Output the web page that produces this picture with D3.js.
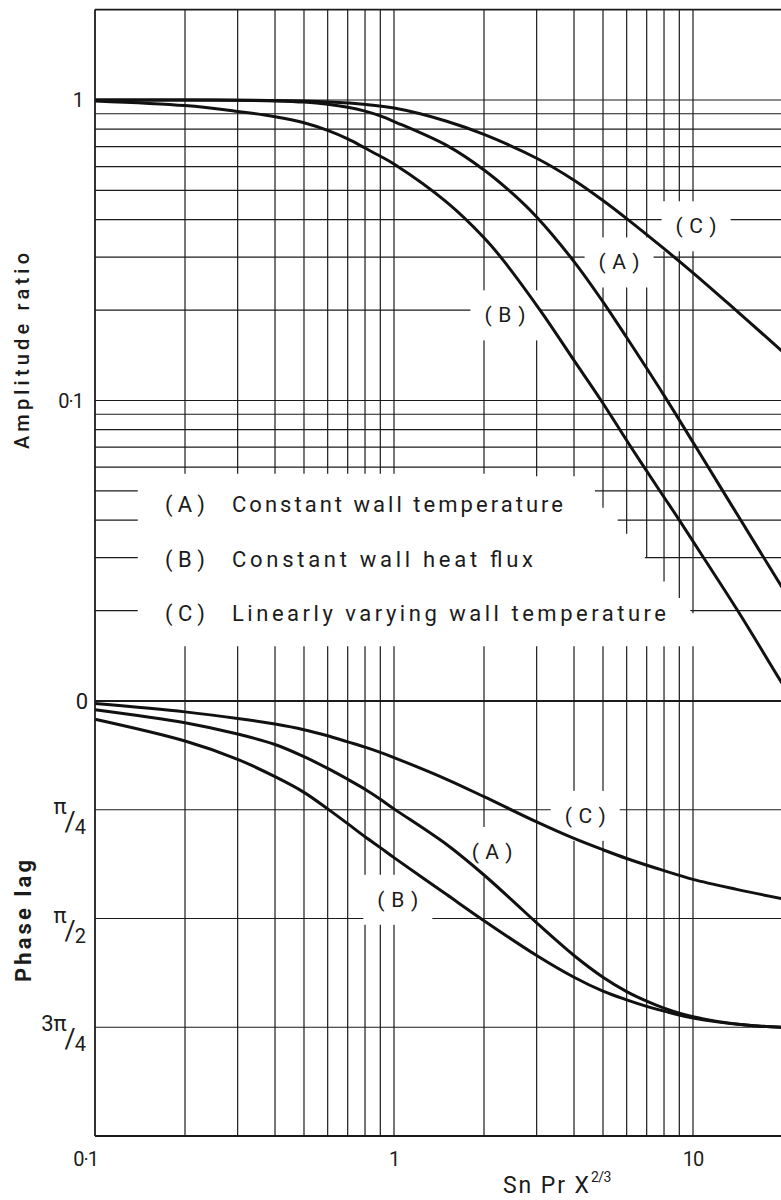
<!DOCTYPE html>
<html>
<head>
<meta charset="utf-8">
<script src="https://cdn.jsdelivr.net/npm/d3@7"></script>
<style>
  body { margin: 0; background: #fff; }
  svg { display: block; }
  text { font-family: Roboto, "DejaVu Sans", sans-serif; fill: #1b1b1b; }
</style>
</head>
<body>
<svg id="chart" width="781" height="1200"></svg>
<script>
// ---- values ---------------------------------------------------------------
// horizontal axis: Sn Pr X^(2/3), logarithmic
const xTickValues = [0.1, 1, 10];
const xTickText = ["0·1", "1", "10"];
const xGridValues = [0.2, 0.3, 0.4, 0.5, 0.6, 0.7, 0.8, 0.9, 1, 2, 3, 4, 5, 6, 7, 8, 9, 10];
// amplitude at which each vertical rule stops above the legend block
const xGridStop = [0.057, 0.057, 0.057, 0.057, 0.057, 0.057, 0.057, 0.057, 0.057,
                   0.057, 0.056, 0.056, 0.044, 0.036, 0.030, 0.025, 0.022, 0.0196];
const xGridResume = 0.0152;

// amplitude ratio axis, logarithmic
const ampTickValues = [1, 0.1];
const ampTickText = ["1", "0·1"];
const ampTop = 2;
const ampGridValues = [1, 0.9, 0.8, 0.7, 0.6, 0.5, 0.4, 0.3, 0.2, 0.1, 0.09, 0.08, 0.07, 0.06];
// rules that step round the legend: short stub on the left, remainder from ampStairStart
const ampStairValues = [0.05, 0.04, 0.03, 0.02];
const ampStairStart = [4.7, 5.6, 6.9, 9.8];
const ampStubEnd = 0.139;

// phase lag axis, in multiples of pi
const phaseTickValues = [0, 0.25, 0.5, 0.75];
const phaseTickNum = ["0", "π", "π", "3π"];
const phaseTickDen = ["", "4", "2", "4"];

// curves: [Sn Pr X^(2/3), amplitude ratio]
const ampA = [[0.1,1.0],[0.2,1.0],[0.3,0.998],[0.4,0.993],[0.5,0.984],[0.6,0.968],[0.7,0.946],
  [0.8,0.918],[0.9,0.885],[1,0.848],[1.5,0.706],[2,0.585],[2.5,0.487],[3,0.408],[4,0.29],
  [5,0.213],[6,0.162],[8,0.104],[10,0.0726],[12.4,0.0512],[14.2,0.0411],[20,0.0236]];
const ampB = [[0.1,0.993],[0.2,0.958],[0.3,0.916],[0.4,0.88],[0.5,0.84],[0.6,0.792],[0.7,0.742],
  [0.8,0.692],[0.9,0.65],[1,0.612],[1.5,0.457],[2,0.348],[2.3,0.296],[3.1,0.198],[4,0.136],
  [4.93,0.1],[6.2,0.07],[7.8,0.0495],[9,0.04],[10.8,0.0302],[14.1,0.02],[20,0.0113]];
const ampC = [[0.1,1.0],[0.2,1.0],[0.3,0.999],[0.5,0.993],[0.7,0.978],[1,0.94],[1.5,0.85],
  [2,0.768],[3,0.64],[4,0.541],[5,0.463],[6,0.403],[8,0.32],[10,0.266],[13,0.212],[20,0.145]];

// curves: [Sn Pr X^(2/3), phase lag / pi]
const phaseA = [[0.1,0.02],[0.2,0.05],[0.3,0.076],[0.4,0.10],[0.5,0.128],[0.6,0.155],[0.7,0.18],
  [0.8,0.203],[0.9,0.226],[1,0.248],[1.5,0.33],[2,0.4],[2.5,0.46],[3,0.51],[4,0.585],
  [5,0.635],[6,0.668],[7,0.69],[8,0.706],[10,0.726],[15,0.745],[20,0.75]];
const phaseB = [[0.1,0.042],[0.2,0.092],[0.3,0.134],[0.4,0.174],[0.5,0.21],[0.6,0.248],[0.7,0.282],
  [0.8,0.312],[0.9,0.337],[1,0.36],[1.5,0.445],[2,0.505],[3,0.585],[4,0.635],[5,0.667],
  [6,0.687],[7,0.702],[8,0.713],[10,0.729],[15,0.745],[20,0.75]];
const phaseC = [[0.1,0.006],[0.2,0.025],[0.3,0.04],[0.4,0.053],[0.5,0.066],[0.6,0.08],[0.7,0.094],
  [0.8,0.106],[0.9,0.118],[1,0.13],[1.5,0.18],[2,0.22],[3,0.278],[4,0.316],[5,0.342],
  [6,0.362],[8,0.39],[10,0.41],[14,0.433],[20,0.455]];

// curve tags: [text, Sn Pr X^(2/3), value]
const ampTags = [["(A)", 5.66, 0.288], ["(B)", 2.35, 0.192], ["(C)", 10.24, 0.38]];
const phaseTags = [["(A)", 2.13, 0.347], ["(B)", 1.03, 0.457], ["(C)", 4.36, 0.264]];

const legendKeys = ["(A)", "(B)", "(C)"];
const legendText = ["Constant wall temperature", "Constant wall heat flux",
                    "Linearly varying wall temperature"];

// ---- layout ---------------------------------------------------------------
const W = 781;
const ink = "#1b1b1b";
const svg = d3.select("#chart");

const x = d3.scaleLog().domain([0.1, 10]).range([95, 693]);
const yAmp = d3.scaleLog().domain([1, 0.01]).range([100, 701]);
const yPh = d3.scaleLinear().domain([0, 1]).range([701, 1136]);

const gGrid = svg.append("g").attr("stroke", ink).attr("stroke-width", 1.2).attr("fill", "none");
const gMask = svg.append("g").attr("fill", "#fff");
const gCurve = svg.append("g").attr("stroke", "#111").attr("stroke-width", 3)
  .attr("fill", "none").attr("stroke-linejoin", "round");
const gFrame = svg.append("g").attr("stroke", ink).attr("stroke-width", 1.8).attr("fill", "none");
const gText = svg.append("g");

// vertical rules, upper part (down to the legend) and lower part
gGrid.append("g").selectAll("line").data(xGridValues).join("line")
  .attr("x1", d => x(d)).attr("x2", d => x(d))
  .attr("y1", yAmp(ampTop)).attr("y2", (d, i) => yAmp(xGridStop[i]));
gGrid.append("g").selectAll("line").data(xGridValues).join("line")
  .attr("x1", d => x(d)).attr("x2", d => x(d))
  .attr("y1", yAmp(xGridResume)).attr("y2", yPh(1));

// horizontal amplitude rules
gGrid.append("g").selectAll("line").data(ampGridValues).join("line")
  .attr("x1", x(0.1)).attr("x2", W)
  .attr("y1", d => yAmp(d)).attr("y2", d => yAmp(d));
gGrid.append("g").selectAll("line").data(ampStairValues).join("line")
  .attr("x1", x(0.1)).attr("x2", x(ampStubEnd))
  .attr("y1", d => yAmp(d)).attr("y2", d => yAmp(d));
gGrid.append("g").selectAll("line").data(ampStairValues).join("line")
  .attr("x1", (d, i) => x(ampStairStart[i])).attr("x2", W)
  .attr("y1", d => yAmp(d)).attr("y2", d => yAmp(d));

// horizontal phase rules
gGrid.append("g").selectAll("line").data(phaseTickValues.slice(1)).join("line")
  .attr("x1", x(0.1)).attr("x2", W)
  .attr("y1", d => yPh(d)).attr("y2", d => yPh(d));

// frame: left edge, top edge, phase zero, bottom edge
gFrame.append("line").attr("x1", x(0.1)).attr("x2", x(0.1)).attr("y1", yAmp(ampTop)).attr("y2", yPh(1));
gFrame.append("line").attr("x1", x(0.1)).attr("x2", W).attr("y1", yAmp(ampTop)).attr("y2", yAmp(ampTop));
gFrame.append("line").attr("x1", x(0.1)).attr("x2", W).attr("y1", yPh(0)).attr("y2", yPh(0));
gFrame.append("line").attr("x1", x(0.1)).attr("x2", W).attr("y1", yPh(1)).attr("y2", yPh(1));

// curves
const smooth = d3.curveCatmullRom.alpha(0.5);
const ampLine = d3.line().x(d => x(d[0])).y(d => yAmp(d[1])).curve(smooth);
const phLine = d3.line().x(d => x(d[0])).y(d => yPh(d[1])).curve(smooth);
[ampA, ampB, ampC].forEach(s => gCurve.append("path").attr("d", ampLine(s)));
[phaseA, phaseB, phaseC].forEach(s => gCurve.append("path").attr("d", phLine(s)));

// curve tags, with the rules broken round them
function tag(t, px, py) {
  const el = gText.append("text").attr("x", px).attr("y", py + 7)
    .attr("text-anchor", "middle").attr("font-size", 21)
    .attr("textLength", 41).attr("lengthAdjust", "spacing").text(t);
  const b = el.node().getBBox();
  gMask.append("rect").attr("x", b.x - 14).attr("y", b.y - 13)
    .attr("width", b.width + 28).attr("height", b.height + 26);
}
ampTags.forEach(d => tag(d[0], x(d[1]), yAmp(d[2])));
phaseTags.forEach(d => tag(d[0], x(d[1]), yPh(d[2])));

// legend
legendKeys.forEach((k, i) => {
  const by = 512 + i * 54.5;
  gText.append("text").attr("x", 165).attr("y", by).attr("font-size", 22)
    .attr("textLength", 40).attr("lengthAdjust", "spacing").text(k);
  gText.append("text").attr("x", 232).attr("y", by).attr("font-size", 22)
    .attr("textLength", [331, 301, 434][i]).attr("lengthAdjust", "spacing").text(legendText[i]);
});

// amplitude tick labels
gText.selectAll("text.amp").data(ampTickValues).join("text").attr("class", "amp")
  .attr("x", 83).attr("y", d => yAmp(d) + 7).attr("text-anchor", "end")
  .attr("font-size", 20).attr("letter-spacing", -1)
  .text((d, i) => ampTickText[i]);

// phase tick labels, written as fractions of pi (one text element each)
phaseTickValues.forEach((v, i) => {
  const py = yPh(v);
  if (!phaseTickDen[i]) {
    gText.append("text").attr("x", 88).attr("y", py + 8).attr("text-anchor", "end")
      .attr("font-size", 22).text(phaseTickNum[i]);
    return;
  }
  const t = gText.append("text").attr("x", 86).attr("y", py + 4).attr("text-anchor", "end");
  t.append("tspan").attr("font-size", 22).text(phaseTickNum[i]);
  t.append("tspan").attr("font-size", 27).attr("dx", -2).attr("dy", 17).text("/");
  t.append("tspan").attr("font-size", 20).attr("dx", -1).attr("dy", 3).text(phaseTickDen[i]);
});

// horizontal tick labels
gText.selectAll("text.xt").data(xTickValues).join("text").attr("class", "xt")
  .attr("x", (d, i) => i === 0 ? x(d) + 3 : x(d))
  .attr("y", 1166)
  .attr("text-anchor", (d, i) => i === 0 ? "end" : "middle")
  .attr("font-size", 20).attr("letter-spacing", -1)
  .text((d, i) => xTickText[i]);

// axis titles
const xt = gText.append("text").attr("x", 503).attr("y", 1193).attr("font-size", 23);
xt.append("tspan").attr("textLength", 86).attr("lengthAdjust", "spacing").text("Sn Pr X");
xt.append("tspan").attr("dy", -11).attr("font-size", 14).attr("letter-spacing", -0.5).text("2/3");

gText.append("text").attr("transform", "translate(29,351) rotate(-90)")
  .attr("text-anchor", "middle").attr("font-size", 20).attr("font-weight", 500)
  .attr("textLength", 196).attr("lengthAdjust", "spacing").text("Amplitude ratio");
gText.append("text").attr("transform", "translate(31,921) rotate(-90)")
  .attr("text-anchor", "middle").attr("font-size", 22).attr("font-weight", 700)
  .attr("textLength", 122).attr("lengthAdjust", "spacing").text("Phase lag");
</script>
</body>
</html>
